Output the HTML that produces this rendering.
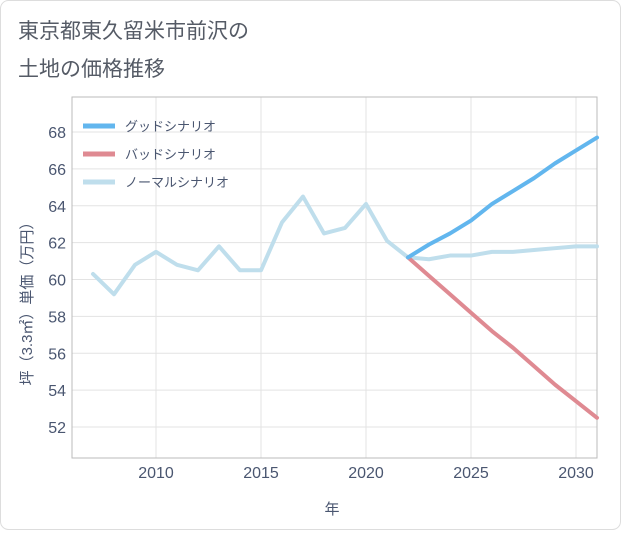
<!DOCTYPE html>
<html><head><meta charset="utf-8"><style>
body{margin:0;background:#fff;}
svg text{font-family:"Liberation Sans","Noto Sans CJK JP",sans-serif;}
</style></head><body>
<svg id="c" width="621" height="530" viewBox="0 0 621 530">
<rect x="0.5" y="0.5" width="620" height="529" rx="8" fill="#fff" stroke="#ddd"/>
<text x="18" y="38" font-size="21" fill="#555b66">東京都東久留米市前沢の</text>
<text x="18" y="76" font-size="21" fill="#555b66">土地の価格推移</text>
<g id="grid"></g>
<g id="series"></g>
<g id="legend"></g>
<text x="332" y="514" font-size="15" fill="#4a5670" text-anchor="middle">年</text>
<text transform="translate(32,300) rotate(-90)" font-size="15" fill="#4a5670" text-anchor="middle">坪（3.3㎡）単価（万円）</text>
</svg>
<script>
const histYears=[2007,2008,2009,2010,2011,2012,2013,2014,2015,2016,2017,2018,2019,2020,2021,2022];
const histValues=[60.3,59.2,60.8,61.5,60.8,60.5,61.8,60.5,60.5,63.1,64.5,62.5,62.8,64.1,62.1,61.2];
const fcYears=[2022,2023,2024,2025,2026,2027,2028,2029,2030,2031];
const goodValues=[61.2,61.9,62.5,63.2,64.1,64.8,65.5,66.3,67.0,67.7];
const badValues=[61.2,60.2,59.2,58.2,57.2,56.3,55.3,54.3,53.4,52.5];
const normalValues=[61.2,61.1,61.3,61.3,61.5,61.5,61.6,61.7,61.8,61.8];
const xTicks=[2010,2015,2020,2025,2030];
const yTicks=[52,54,56,58,60,62,64,66,68];
const legendLabels=["グッドシナリオ","バッドシナリオ","ノーマルシナリオ"];
const L=72,R=597,T=97,B=458;
const x=v=>L+(v-2006)*(R-L)/25;
const y=v=>B-(v-50.32)*(B-T)/(69.9-50.32);
const NS="http://www.w3.org/2000/svg";
function mk(t,a,p){const e=document.createElementNS(NS,t);for(const k in a)e.setAttribute(k,a[k]);p.appendChild(e);return e;}
const g=document.getElementById('grid');
for(const t of yTicks){
 const l=mk('line',{x1:L,x2:R,y1:y(t),y2:y(t),stroke:'#e3e3e3'},g);
 
 
 const tx=mk('text',{x:L-6,y:y(t)+6,'font-size':16,fill:'#4a5670','text-anchor':'end'},g);tx.textContent=t;
 
 
}
for(const t of xTicks){
 const l=mk('line',{x1:x(t),x2:x(t),y1:T,y2:B,stroke:'#e3e3e3'},g);
 
 
 const tx=mk('text',{x:x(t),y:B+20,'font-size':16,fill:'#4a5670','text-anchor':'middle'},g);tx.textContent=t;
 
 
}
const fr=mk('rect',{x:L,y:T,width:R-L,height:B-T,fill:'none',stroke:'#bbb'},g);


const s=document.getElementById('series');
function line(xs,vs,c,n){
 const p=mk('polyline',{points:xs.map((v,i)=>x(v)+','+y(vs[i])).join(' '),fill:'none',stroke:c,'stroke-width':4,'stroke-linejoin':'round','stroke-linecap':'round'},s);
 
 
}
line(histYears,histValues,'#bfdeec','history-line');
line(fcYears,normalValues,'#bfdeec','normal-scenario-line');
line(fcYears,badValues,'#df8a92','bad-scenario-line');
line(fcYears,goodValues,'#62b6ee','good-scenario-line');
const lg=document.getElementById('legend');
const cols=['#62b6ee','#df8a92','#bfdeec'];
legendLabels.forEach((t,i)=>{
 const yy=126+i*28;
 const l=mk('line',{x1:83,x2:115,y1:yy,y2:yy,stroke:cols[i],'stroke-width':5},lg);
 
 
 const tx=mk('text',{x:125,y:yy+5,'font-size':13,fill:'#4a5670'},lg);tx.textContent=t;
 
 
});
</script>
</body></html>
